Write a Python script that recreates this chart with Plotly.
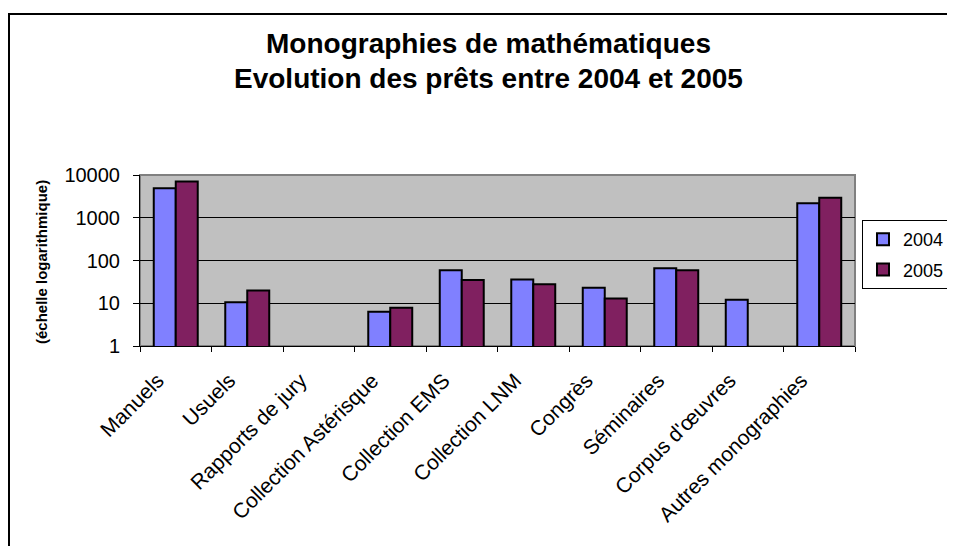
import plotly.graph_objects as go

categories = [
    "Manuels",
    "Usuels",
    "Rapports de jury",
    "Collection Astérisque",
    "Collection EMS",
    "Collection LNM",
    "Congrès",
    "Séminaires",
    "Corpus d'œuvres",
    "Autres monographies",
]
prets_2004 = [4900, 10.5, None, 6.3, 59, 36, 23, 66, 12, 2180]
prets_2005 = [7000, 20, None, 7.8, 35, 28, 13, 59, None, 2940]

y_ticks = [1, 10, 100, 1000, 10000]

title_lines = [
    "Monographies de mathématiques",
    "Evolution des prêts entre 2004 et 2005",
]

# the page body has an 8px margin, so the figure is 16px smaller than the window
OFF = 8
W, H = 955 - 2 * OFF, 554 - 2 * OFF
# plot area in window pixels: x 140..855, y 175..346
L, T = 140 - OFF, 175 - OFF
pw, ph = 715, 171
R, B = W - L - pw, H - T - ph


def px_x(px):
    # window pixel -> paper x
    return (px - OFF - L) / pw


def px_y(py):
    # window pixel -> paper y
    return (T + ph - (py - OFF)) / ph


fig = go.Figure()
fig.add_trace(
    go.Bar(
        x=categories,
        y=prets_2004,
        name="2004",
        legendgroup="a",
        marker=dict(color="#8080FF", line=dict(color="black", width=2)),
    )
)
fig.add_trace(
    go.Bar(
        x=categories,
        y=prets_2005,
        name="2005",
        legendgroup="b",
        marker=dict(color="#802060", line=dict(color="black", width=2)),
    )
)

fig.update_layout(
    width=W,
    height=H,
    margin=dict(l=L, r=R, t=T, b=B, autoexpand=False),
    paper_bgcolor="white",
    plot_bgcolor="#C0C0C0",
    barmode="group",
    bargap=0.385,
    bargroupgap=0,
    font=dict(family="Liberation Sans, Arial", color="black"),
    showlegend=True,
    legend=dict(
        x=px_x(862),
        y=px_y(220),
        xanchor="left",
        yanchor="top",
        bordercolor="black",
        borderwidth=1,
        bgcolor="white",
        font=dict(size=18),
        itemwidth=30,
        tracegroupgap=4,
    ),
    xaxis=dict(
        tickangle=-45,
        tickfont=dict(size=21),
        ticklabelstandoff=13,
        ticklabelshift=-18,
        showline=True,
        linecolor="black",
        linewidth=1,
        ticks="outside",
        tickson="boundaries",
        ticklen=5,
        tickcolor="black",
        showgrid=False,
    ),
    yaxis=dict(
        type="log",
        range=[0, 4],
        tickvals=y_ticks,
        ticktext=[str(v) for v in y_ticks],
        tickfont=dict(size=20),
        ticklabelstandoff=9,
        showline=True,
        linecolor="black",
        linewidth=1,
        ticks="outside",
        ticklen=6,
        tickcolor="black",
        showgrid=True,
        gridcolor="black",
        gridwidth=1,
        zeroline=False,
    ),
)

# gray frame around the plot area
fig.add_shape(
    type="rect", xref="paper", yref="paper", x0=0, x1=1, y0=0, y1=1,
    line=dict(color="#808080", width=2), layer="below",
)
# outer chart border (runs off the right and bottom edges)
fig.add_shape(
    type="rect", xref="paper", yref="paper",
    x0=px_x(9), x1=px_x(1000), y0=px_y(600), y1=px_y(14),
    line=dict(color="black", width=2),
)

for line, y_mid in zip(title_lines, [43, 78]):
    fig.add_annotation(
        text=f"<b>{line}</b>",
        xref="paper", yref="paper", x=px_x(488), y=px_y(y_mid),
        xanchor="center", yanchor="middle", showarrow=False,
        font=dict(size=28, family="Liberation Sans, Arial"),
    )
fig.add_annotation(
    text="<b>(échelle logarithmique)</b>",
    xref="paper", yref="paper", x=px_x(41), y=px_y(262),
    xanchor="center", yanchor="middle", showarrow=False, textangle=-90,
    font=dict(size=15, family="Liberation Sans, Arial"),
)

fig.write_html("out.html")
